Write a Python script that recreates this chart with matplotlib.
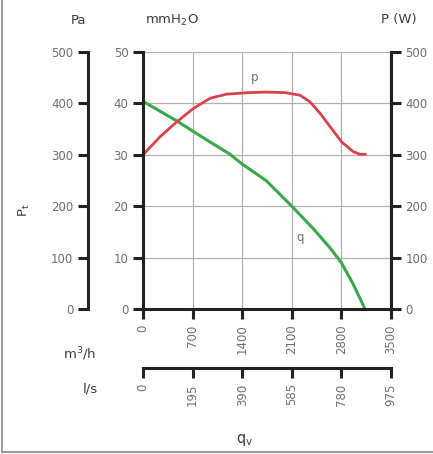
import matplotlib
matplotlib.use('Agg')
import matplotlib.pyplot as plt
from matplotlib.lines import Line2D

# flow (m3/h) vs pressure (mmH2O) and power (W)
q_flow = [0, 475, 899, 1228, 1400, 1745, 2100, 2405, 2639, 2800, 2968, 3133]
q_press = [40.4, 36.6, 32.9, 30.1, 28.2, 24.9, 20.0, 15.6, 11.9, 9.0, 4.8, 0.0]

p_flow = [0, 240, 475, 710, 946, 1181, 1500, 1745, 2000, 2216, 2357, 2498,
          2639, 2804, 2968, 3060, 3133]
p_power = [300, 335, 364, 390, 410, 418, 421, 422, 421, 416, 403, 381,
           355, 325, 306, 301, 301]

m3h_ticks = [0, 700, 1400, 2100, 2800, 3500]
ls_ticks = [0, 195, 390, 585, 780, 975]
mm_ticks = [0, 10, 20, 30, 40, 50]
pa_ticks = [0, 100, 200, 300, 400, 500]
w_ticks = [0, 100, 200, 300, 400, 500]

W, H = 433, 454
fig = plt.figure(figsize=(W / 100, H / 100), dpi=100)
# frame on left and bottom edges of the picture
fig.lines.append(Line2D([2 / W, 2 / W], [2 / H, 1], transform=fig.transFigure,
                        color='#9a9a9a', linewidth=1.5))
fig.lines.append(Line2D([2 / W, 1], [2 / H, 2 / H], transform=fig.transFigure,
                        color='#9a9a9a', linewidth=1.5))

x0, x1, y0, y1 = 143, 391, 309, 52
ax = fig.add_axes([x0 / W, 1 - y0 / H, (x1 - x0) / W, (y0 - y1) / H])

txt = '#6e6e6e'
dark = '#3c3c3c'
spc = '#222222'
lw_sp = 2.2
fs = 8.5

ax.set_xlim(0, 3500)
ax.set_ylim(0, 50)
ax.set_xticks(m3h_ticks)
ax.set_yticks(mm_ticks)
ax.grid(True, color='#b0b0b0', linewidth=0.9)
ax.set_axisbelow(True)
ax.spines['top'].set_visible(False)
for s in ['left', 'bottom', 'right']:
    ax.spines[s].set_linewidth(lw_sp)
    ax.spines[s].set_color(spc)
ax.tick_params(axis='both', length=7, width=lw_sp, color=spc,
               labelcolor=txt, labelsize=fs)
ax.tick_params(axis='x', rotation=90, pad=4)

ax.plot(q_flow, q_press, color='#3aa84a', linewidth=2.2, solid_joinstyle='round')
ax.plot(p_flow, [v / 10 for v in p_power], color='#d8424a', linewidth=2.0,
        solid_joinstyle='round')
ax.text(1580, 45, 'p', color=txt, fontsize=fs, ha='center', va='center')
ax.text(2215, 14, 'q', color=txt, fontsize=fs, ha='center', va='center')

# right axis: power (W)
axr = ax.twinx()
axr.set_ylim(0, 500)
axr.set_yticks(w_ticks)
for s in ['top', 'left', 'bottom']:
    axr.spines[s].set_visible(False)
axr.spines['right'].set_linewidth(lw_sp)
axr.spines['right'].set_color(spc)
axr.tick_params(axis='y', length=7, width=lw_sp, color=spc,
                labelcolor=txt, labelsize=fs)

# far left axis: Pa
axp = ax.twinx()
axp.set_ylim(0, 500)
axp.set_yticks(pa_ticks)
axp.yaxis.set_ticks_position('left')
for s in ['top', 'right', 'bottom']:
    axp.spines[s].set_visible(False)
axp.spines['left'].set_visible(True)
axp.spines['left'].set_position(('axes', -(x0 - 88) / (x1 - x0)))
axp.spines['left'].set_linewidth(lw_sp)
axp.spines['left'].set_color(spc)
axp.tick_params(axis='y', length=7, width=lw_sp, color=spc,
                labelcolor=txt, labelsize=fs)

# lower axis: l/s
axl = ax.twiny()
axl.set_xlim(0, 975)
axl.set_xticks(ls_ticks)
axl.xaxis.set_ticks_position('bottom')
for s in ['top', 'right', 'left']:
    axl.spines[s].set_visible(False)
axl.spines['bottom'].set_visible(True)
axl.spines['bottom'].set_position(('axes', -(368 - y0) / (y0 - y1)))
axl.spines['bottom'].set_linewidth(lw_sp)
axl.spines['bottom'].set_color(spc)
axl.tick_params(axis='x', length=7, width=lw_sp, color=spc,
                labelcolor=txt, labelsize=fs, rotation=90, pad=4)

# unit labels
fig.text(78 / W, 1 - 20 / H, 'Pa', color=dark, fontsize=9.5, ha='center', va='center')
fig.text(172 / W, 1 - 20 / H, 'mmH$_2$O', color=dark, fontsize=9.5, ha='center', va='center')
fig.text(399 / W, 1 - 19 / H, 'P (W)', color=dark, fontsize=9.5, ha='center', va='center')
fig.text(24 / W, 1 - 210 / H, 'P$_\\mathregular{t}$', color=dark, fontsize=9.5,
         ha='center', va='center', rotation=90)
fig.text(80 / W, 1 - 354 / H, 'm$^3$/h', color=dark, fontsize=9.5, ha='center', va='center')
fig.text(90 / W, 1 - 389 / H, 'l/s', color=dark, fontsize=9.5, ha='center', va='center')
fig.text(245 / W, 1 - 440 / H, 'q$_\\mathregular{v}$', color=dark, fontsize=10.5,
         ha='center', va='center')

fig.savefig('out.png', dpi=100)
